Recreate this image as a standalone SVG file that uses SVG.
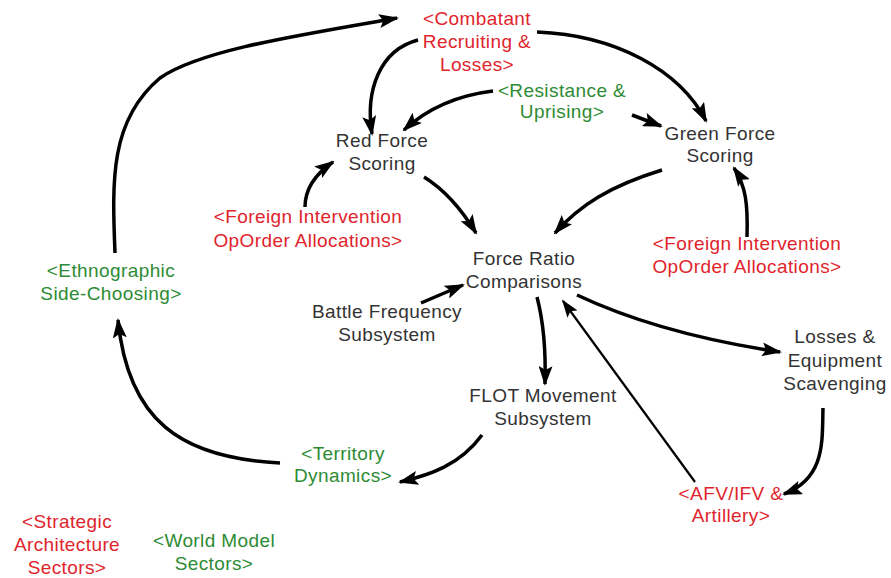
<svg xmlns="http://www.w3.org/2000/svg" width="891" height="578" viewBox="0 0 891 578">
<defs>
<marker id="ah" viewBox="0 0 20 14" refX="18" refY="7" markerWidth="20" markerHeight="14" markerUnits="userSpaceOnUse" orient="auto">
<path d="M0,0 L20,7 L0,14 L4,7 Z" fill="#000"/>
</marker>
<marker id="ahs" viewBox="0 0 20 14" refX="18" refY="7" markerWidth="18" markerHeight="13" markerUnits="userSpaceOnUse" orient="auto">
<path d="M0,0 L20,7 L0,14 L4,7 Z" fill="#000"/>
</marker>
<style>
text{font-family:"Liberation Sans",Arial,sans-serif;font-size:19px;letter-spacing:0.4px;text-anchor:middle}
.k{fill:#333}
.r{fill:#e0242c}
.g{fill:#2e8b35}
.c{fill:none;stroke:#000;stroke-width:3.5;marker-end:url(#ah)}
.t{fill:none;stroke:#000;stroke-width:2.2;marker-end:url(#ahs)}
</style>
</defs>
<rect width="891" height="578" fill="#fff"/>
<g id="connectors">
<path class="c" d="M280,463 C180,458 128,420 118,320"/>
<path class="c" d="M115,253 C112,180 110,120 160,78 C200,50 300,35 397,18"/>
<path class="c" d="M418,40 C380,50 365,90 372,134"/>
<path class="c" d="M537,32 C615,35 680,70 706,121"/>
<path class="c" d="M493,91 C460,95 428,108 404,130"/>
<path class="c" d="M632,115 L661,126"/>
<path class="c" d="M305,207 C305,190 314,175 333,162"/>
<path class="c" d="M747,237 C748,205 746,186 734,168"/>
<path class="c" d="M424,177 C445,190 462,210 476,233"/>
<path class="c" d="M662,170 C610,186 580,205 555,233"/>
<path class="c" d="M421,303 L463,285"/>
<path class="c" d="M537,297 C543,320 546,350 545,384"/>
<path class="t" d="M695,482 L563,301"/>
<path class="c" d="M577,295 C630,320 700,340 780,352"/>
<path class="c" d="M823,408 C822,440 826,478 784,494"/>
<path class="c" d="M482,435 C460,465 430,475 400,482"/>
</g>
<g id="combatant"><text class="r" x="477" y="25">&lt;Combatant</text><text class="r" x="477" y="48">Recruiting &amp;</text><text class="r" x="477" y="71">Losses&gt;</text></g>
<g id="resistance"><text class="g" x="562" y="97">&lt;Resistance &amp;</text><text class="g" x="562" y="118">Uprising&gt;</text></g>
<g id="red-force"><text class="k" x="382" y="147">Red Force</text><text class="k" x="382" y="170">Scoring</text></g>
<g id="green-force"><text class="k" x="720" y="140">Green Force</text><text class="k" x="720" y="162">Scoring</text></g>
<g id="foreign-left"><text class="r" x="308" y="223">&lt;Foreign Intervention</text><text class="r" x="308" y="247">OpOrder Allocations&gt;</text></g>
<g id="foreign-right"><text class="r" x="747" y="250">&lt;Foreign Intervention</text><text class="r" x="747" y="273">OpOrder Allocations&gt;</text></g>
<g id="force-ratio"><text class="k" x="524" y="265">Force Ratio</text><text class="k" x="524" y="288">Comparisons</text></g>
<g id="ethnographic"><text class="g" x="111" y="277">&lt;Ethnographic</text><text class="g" x="111" y="300">Side-Choosing&gt;</text></g>
<g id="battle-frequency"><text class="k" x="387" y="318">Battle Frequency</text><text class="k" x="387" y="341">Subsystem</text></g>
<g id="losses"><text class="k" x="835" y="343">Losses &amp;</text><text class="k" x="835" y="367">Equipment</text><text class="k" x="835" y="390">Scavenging</text></g>
<g id="flot"><text class="k" x="543" y="402">FLOT Movement</text><text class="k" x="543" y="425">Subsystem</text></g>
<g id="territory"><text class="g" x="343" y="460">&lt;Territory</text><text class="g" x="343" y="482">Dynamics&gt;</text></g>
<g id="afv"><text class="r" x="731" y="500">&lt;AFV/IFV &amp;</text><text class="r" x="731" y="522">Artillery&gt;</text></g>
<g id="strategic"><text class="r" x="67" y="528">&lt;Strategic</text><text class="r" x="67" y="551">Architecture</text><text class="r" x="67" y="574">Sectors&gt;</text></g>
<g id="world-model"><text class="g" x="214" y="547">&lt;World Model</text><text class="g" x="214" y="570">Sectors&gt;</text></g>
</svg>
